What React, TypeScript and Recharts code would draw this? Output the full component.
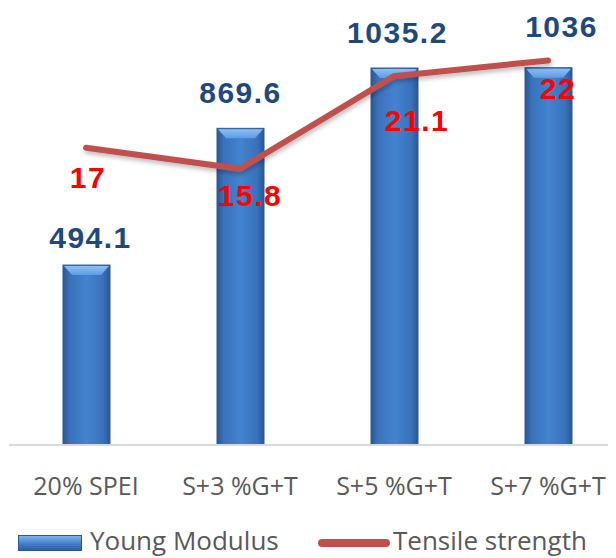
import React from "react";
import {
  ComposedChart,
  Bar,
  Line,
  XAxis,
  YAxis,
  Legend,
  LabelList,
} from "recharts";

const categories = ["20% SPEI", "S+3 %G+T", "S+5 %G+T", "S+7 %G+T"];
const youngModulus = [494.1, 869.6, 1035.2, 1036];
const tensileStrength = [17, 15.8, 21.1, 22];

// label nudges (px), picked by eye from the original
const barLabelDx = [4, 0, 3, 13];
const barLabelLift = [28, 36, 36, 41];
const lineLabelDx = [2, 10, 23, 10];
const lineLabelDy = [30, 27, 44, 28];

const data = categories.map((name, i) => ({
  name,
  young: youngModulus[i],
  tensile: tensileStrength[i],
}));

const LABEL_FONT = "'Liberation Sans', Arial, sans-serif";
const AXIS_FONT = "'Open Sans', sans-serif";

function BarShape(props: any) {
  const { x, y, width, height } = props;
  const b = Math.min(10, height / 2);
  return (
    <g>
      <rect x={x} y={y} width={width} height={height} fill="url(#barGrad)" stroke="#2b5891" strokeWidth={1} />
      <polygon
        points={`${x + 1},${y + 1} ${x + width - 1},${y + 1} ${x + width - 9},${y + b} ${x + 9},${y + b}`}
        fill="url(#bevelGrad)"
      />
    </g>
  );
}

function BarLabel(props: any) {
  const { x, y, width, value, index } = props;
  return (
    <text
      x={x + width / 2 + barLabelDx[index]}
      y={y - barLabelLift[index]}
      textAnchor="middle"
      dominantBaseline="central"
      fill="#1f497d"
      fontFamily={LABEL_FONT}
      fontWeight="bold"
      fontSize={30}
      letterSpacing={1.5}
    >
      {value}
    </text>
  );
}

function LineLabel(props: any) {
  const { x, y, value, index } = props;
  return (
    <text
      x={x + lineLabelDx[index]}
      y={y + lineLabelDy[index]}
      textAnchor="middle"
      dominantBaseline="central"
      fill="#ff0000"
      fontFamily={LABEL_FONT}
      fontWeight="bold"
      fontSize={30}
      letterSpacing={1.5}
    >
      {value}
    </text>
  );
}

function Tick(props: any) {
  const { x, y, payload } = props;
  return (
    <text
      x={x}
      y={y + 32}
      textAnchor="middle"
      dominantBaseline="central"
      fill="#595959"
      fontFamily={AXIS_FONT}
      fontSize={25}
    >
      {payload.value}
    </text>
  );
}

function LegendBox() {
  const text: React.CSSProperties = {
    position: "absolute",
    top: 15,
    fontFamily: AXIS_FONT,
    fontSize: 26,
    color: "#595959",
    lineHeight: "40px",
    whiteSpace: "nowrap",
  };
  return (
    <div style={{ position: "relative", width: 616, height: 53 }}>
      <div
        style={{
          position: "absolute",
          left: 18,
          top: 30,
          width: 64,
          height: 16,
          border: "1px solid #2b5891",
          boxSizing: "border-box",
          background: "linear-gradient(#7db3ee, #3f7bc6 60%, #2d5f9f)",
        }}
      />
      <div style={{ ...text, left: 90 }}>Young Modulus</div>
      <div
        style={{
          position: "absolute",
          left: 318,
          top: 34,
          width: 72,
          height: 8,
          borderRadius: 4,
          background: "#c0504d",
        }}
      />
      <div style={{ ...text, left: 393 }}>Tensile strength</div>
    </div>
  );
}

export default function App() {
  return (
    <div style={{ position: "relative", width: 616, height: 558, margin: "-8px 0 0 -8px", overflow: "hidden", background: "#fff" }}>
      <ComposedChart width={625} height={558} data={data} margin={{ top: 8, right: 0, left: 9, bottom: 0 }}>
        <defs>
          <linearGradient id="barGrad" x1="0" y1="0" x2="1" y2="0">
            <stop offset="0%" stopColor="#2a5894" />
            <stop offset="15%" stopColor="#3a72bb" />
            <stop offset="50%" stopColor="#4383cf" />
            <stop offset="85%" stopColor="#3a72bb" />
            <stop offset="100%" stopColor="#2a5894" />
          </linearGradient>
          <linearGradient id="bevelGrad" x1="0" y1="0" x2="0" y2="1">
            <stop offset="0%" stopColor="#8cc0f4" />
            <stop offset="100%" stopColor="#5d9be2" />
          </linearGradient>
          <filter id="lineShadow" x="-10%" y="-30%" width="120%" height="160%">
            <feDropShadow dx="1" dy="3" stdDeviation="2" floodColor="#000" floodOpacity="0.25" />
          </filter>
        </defs>
        <XAxis
          dataKey="name"
          height={60}
          tickLine={false}
          axisLine={{ stroke: "#d9d9d9", strokeWidth: 2 }}
          tick={<Tick />}
          interval={0}
        />
        <YAxis yAxisId="left" hide domain={[0, 1200]} />
        <YAxis yAxisId="right" orientation="right" hide domain={[0, 25]} />
        <Legend verticalAlign="bottom" height={53} content={() => <LegendBox />} wrapperStyle={{ left: 0, width: 616 }} />
        <Bar
          yAxisId="left"
          dataKey="young"
          name="Young Modulus"
          barSize={47}
          shape={<BarShape />}
          isAnimationActive={false}
        >
          <LabelList dataKey="young" content={<BarLabel />} />
        </Bar>
        <Line
          yAxisId="right"
          dataKey="tensile"
          name="Tensile strength"
          stroke="#c0504d"
          strokeWidth={6}
          strokeLinecap="round"
          dot={false}
          filter="url(#lineShadow)"
          isAnimationActive={false}
        >
          <LabelList dataKey="tensile" content={<LineLabel />} />
        </Line>
      </ComposedChart>
    </div>
  );
}
